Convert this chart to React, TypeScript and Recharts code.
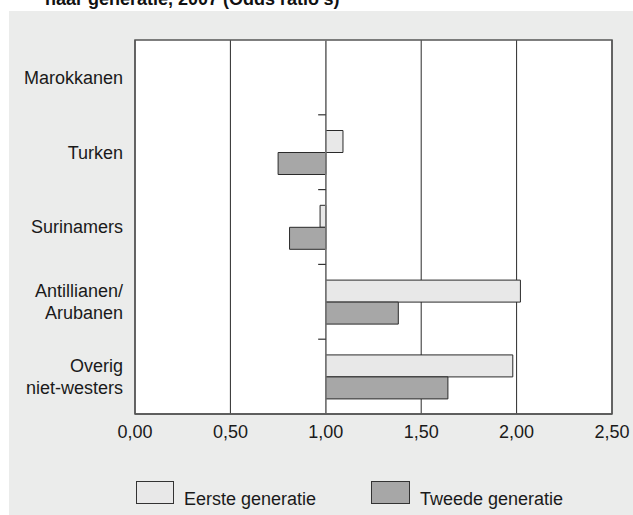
import React from 'react';
import {
  BarChart,
  Bar,
  XAxis,
  YAxis,
  CartesianGrid,
  ReferenceLine,
  ReferenceArea,
} from 'recharts';

const titleText = "naar generatie, 2007 (Odds ratio's)";
const categories = ['Marokkanen', 'Turken', 'Surinamers', 'Antillianen/\nArubanen', 'Overig\nniet-westers'];
const eersteGeneratie: (number | null)[] = [null, 1.09, 0.97, 2.02, 1.98];
const tweedeGeneratie: (number | null)[] = [null, 0.75, 0.81, 1.38, 1.64];
const xTicks = [0, 0.5, 1, 1.5, 2, 2.5];
const baseline = 1;
const seriesNames = ['Eerste generatie', 'Tweede generatie'];
const seriesColors = ['#e8e8e8', '#a7a7a7'];

const toRange = (v: number | null) =>
  v == null ? null : [Math.min(baseline, v), Math.max(baseline, v)];

const data = categories.map((c, i) => ({
  name: c,
  eerste: toRange(eersteGeneratie[i]),
  tweede: toRange(tweedeGeneratie[i]),
}));

const FONT = '"Liberation Sans", Arial, Helvetica, sans-serif';

const CategoryTick = (props: any) => {
  const { x, y, payload } = props;
  const lines = String(payload.value).split('\n');
  const n = lines.length;
  const lh = 21.5;
  return (
    <g>
      {lines.map((l, i) => (
        <text
          key={i}
          x={x}
          y={y + 6.4 + (i - (n - 1) / 2) * lh}
          textAnchor="end"
          fontSize={18}
          fontFamily={FONT}
          fill="#1a1a1a"
        >
          {l}
        </text>
      ))}
    </g>
  );
};

export default function App() {
  return (
    <div style={{ position: 'absolute', left: 0, top: 0, width: 633, height: 515, overflow: 'hidden', background: '#fff' }}>
      <svg style={{ position: 'absolute', left: 0, top: 0 }} width={633} height={12}>
        <text x={45} y={4.5} fontSize={18} fontWeight="bold" fontFamily={FONT} fill="#111">
          {titleText}
        </text>
      </svg>
      <div style={{ position: 'absolute', left: 9, top: 11, width: 624, height: 504, background: '#ebeceb' }} />
      <div style={{ position: 'absolute', left: 0, top: 0 }}>
        <BarChart
          width={633}
          height={515}
          data={data}
          layout="vertical"
          margin={{ top: 40, right: 21, left: 0, bottom: 71 }}
          barCategoryGap="21%"
          barGap={0}
        >
          <CartesianGrid horizontal={false} vertical stroke="#2a2a2a" fill="#ffffff" fillOpacity={1} />
          <XAxis
            type="number"
            domain={[0, 2.5]}
            ticks={xTicks}
            interval={0}
            height={30}
            tickFormatter={(v: number) => v.toFixed(2).replace('.', ',')}
            axisLine={{ stroke: '#555', strokeWidth: 1.5 }}
            tickLine={false}
            tickSize={0}
            tickMargin={11}
            tick={{ fontSize: 18, fontFamily: FONT, fill: '#1a1a1a' }}
          />
          <YAxis
            type="category"
            dataKey="name"
            width={135}
            axisLine={false}
            tickLine={false}
            tickSize={0}
            tickMargin={12}
            interval={0}
            tick={<CategoryTick />}
          />
          <ReferenceArea
            x1={0}
            x2={2.5}
            fill="none"
            stroke="#555"
            strokeWidth={1.5}
            ifOverflow="visible"
          />
          <ReferenceLine x={baseline} stroke="#777" strokeWidth={1.5} />
          {categories.slice(1).map((c) => (
            <ReferenceLine
              key={c}
              position="start"
              segment={[
                { x: baseline - 0.04, y: c },
                { x: baseline, y: c },
              ]}
              stroke="#333"
              strokeWidth={1.2}
            />
          ))}
          <Bar
            dataKey="eerste"
            name={seriesNames[0]}
            fill={seriesColors[0]}
            stroke="#2a2a2a"
            strokeWidth={1}
            isAnimationActive={false}
          />
          <Bar
            dataKey="tweede"
            name={seriesNames[1]}
            fill={seriesColors[1]}
            stroke="#2a2a2a"
            strokeWidth={1}
            isAnimationActive={false}
          />
        </BarChart>
      </div>
      <svg style={{ position: 'absolute', left: 0, top: 470 }} width={633} height={45}>
        <rect x={136.5} y={11.5} width={37} height={22} fill={seriesColors[0]} stroke="#333" strokeWidth={1} />
        <text x={184} y={35} fontSize={18} fontFamily={FONT} fill="#1a1a1a">{seriesNames[0]}</text>
        <rect x={371.5} y={11.5} width={38} height={22} fill={seriesColors[1]} stroke="#333" strokeWidth={1} />
        <text x={420} y={35} fontSize={18} fontFamily={FONT} fill="#1a1a1a">{seriesNames[1]}</text>
      </svg>
    </div>
  );
}
